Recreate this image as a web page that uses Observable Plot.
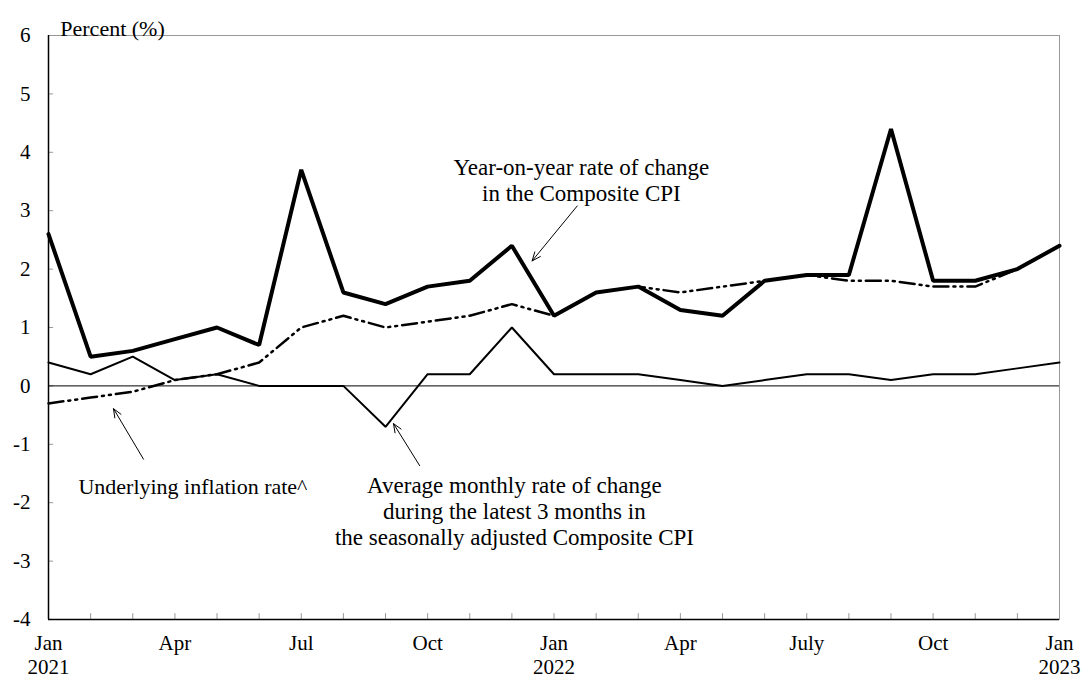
<!DOCTYPE html>
<html>
<head>
<meta charset="utf-8">
<script src="https://cdn.jsdelivr.net/npm/d3@7"></script>
<script src="https://cdn.jsdelivr.net/npm/@observablehq/plot@0.6"></script>
<style>
  html, body { margin: 0; padding: 0; background: #fff; }
  #chart svg { display: block; font-family: "Liberation Serif", "Times New Roman", serif !important; }
</style>
</head>
<body>
<div id="chart"></div>
<script>
const months = ["2021-01","2021-02","2021-03","2021-04","2021-05","2021-06","2021-07","2021-08","2021-09","2021-10","2021-11","2021-12",
                "2022-01","2022-02","2022-03","2022-04","2022-05","2022-06","2022-07","2022-08","2022-09","2022-10","2022-11","2022-12","2023-01"];
const yoyComposite = [2.6,0.5,0.6,0.8,1.0,0.7,3.7,1.6,1.4,1.7,1.8,2.4, 1.2,1.6,1.7,1.3,1.2,1.8,1.9,1.9,4.4,1.8,1.8,2.0,2.4];
const underlying   = [-0.3,-0.2,-0.1,0.1,0.2,0.4,1.0,1.2,1.0,1.1,1.2,1.4, 1.2,1.6,1.7,1.6,1.7,1.8,1.9,1.8,1.8,1.7,1.7,2.0,2.4];
const avg3mSA      = [0.4,0.2,0.5,0.1,0.2,0.0,0.0,0.0,-0.7,0.2,0.2,1.0, 0.2,0.2,0.2,0.1,0.0,0.1,0.2,0.2,0.1,0.2,0.2,0.3,0.4];

const xTickIdx = [0,3,6,9,12,15,18,21,24];
const xTickLabels = ["Jan\n2021","Apr","Jul","Oct","Jan\n2022","Apr","July","Oct","Jan\n2023"];
const yTicks = [-4,-3,-2,-1,0,1,2,3,4,5,6];

const centeredNotes = [
  {x: 12.65, y: 3.53, text: "Year-on-year rate of change\nin the Composite CPI"},
  {x: 11.06, y: -2.135, text: "Average monthly rate of change\nduring the latest 3 months in\nthe seasonally adjusted Composite CPI"}
];
const leftNotes = [
  {x: 0.71, y: -1.71, text: "Underlying inflation rate^"}
];
const arrows = [
  {x1: 12.55, y1: 3.08, x2: 11.48, y2: 2.14},
  {x1: 2.255, y1: -1.255, x2: 1.543, y2: -0.39},
  {x1: 8.81, y1: -1.365, x2: 8.19, y2: -0.646}
];

const rows = months.map((m, i) => ({i, m, yoy: yoyComposite[i], und: underlying[i], avg: avg3mSA[i]}));

const chart = Plot.plot({
  width: 1083,
  height: 681,
  marginLeft: 48,
  marginRight: 24,
  marginTop: 35,
  marginBottom: 62,
  style: {fontFamily: "'Liberation Serif', 'Times New Roman', serif", color: "#000", background: "#fff"},
  x: {domain: [0, 24], axis: null},
  y: {domain: [-4, 6], axis: null},
  marks: [
    Plot.frame({stroke: "#999", strokeWidth: 1}),
    Plot.ruleY(yTicks, {x1: 0, x2: 0.12, stroke: "#999"}),
    Plot.ruleX(d3.range(25), {y1: -4, y2: -3.9, stroke: "#999"}),
    Plot.ruleY([0], {stroke: "#000", strokeWidth: 1}),
    Plot.ruleX([0], {stroke: "#000", strokeWidth: 1.5}),
    Plot.ruleY([-4], {stroke: "#000", strokeWidth: 1.5}),
    Plot.axisY({ticks: yTicks, tickSize: 0, tickPadding: 18, fontSize: 21, tickFormat: d => String(d)}),
    Plot.axisX({ticks: xTickIdx, tickSize: 0, tickPadding: 13, fontSize: 21, lineHeight: 1.15, tickFormat: d => xTickLabels[xTickIdx.indexOf(d)]}),
    Plot.text(["Percent (%)"], {x: 0.28, y: 6.11, text: d => d, textAnchor: "start", fontSize: 22, fill: "#000"}),
    Plot.line(rows, {x: "i", y: "avg", stroke: "#000", strokeWidth: 2, strokeLinejoin: "miter"}),
    Plot.line(rows, {x: "i", y: "und", stroke: "#000", strokeWidth: 2.5, strokeDasharray: "15,5,2,5,2,5"}),
    Plot.line(rows, {x: "i", y: "yoy", stroke: "#000", strokeWidth: 4, strokeLinejoin: "miter"}),
    Plot.text(centeredNotes, {x: "x", y: "y", text: "text", textAnchor: "middle", fontSize: 23, lineHeight: 1.13, fill: "#000", lineAnchor: "middle"}),
    Plot.text(leftNotes, {x: "x", y: "y", text: "text", textAnchor: "start", fontSize: 22, lineHeight: 1.18, fill: "#000", lineAnchor: "middle"}),
    Plot.arrow(arrows, {x1: "x1", y1: "y1", x2: "x2", y2: "y2", stroke: "#000", strokeWidth: 1, headLength: 14, headAngle: 45})
  ]
});
document.getElementById("chart").appendChild(chart);
</script>
</body>
</html>
